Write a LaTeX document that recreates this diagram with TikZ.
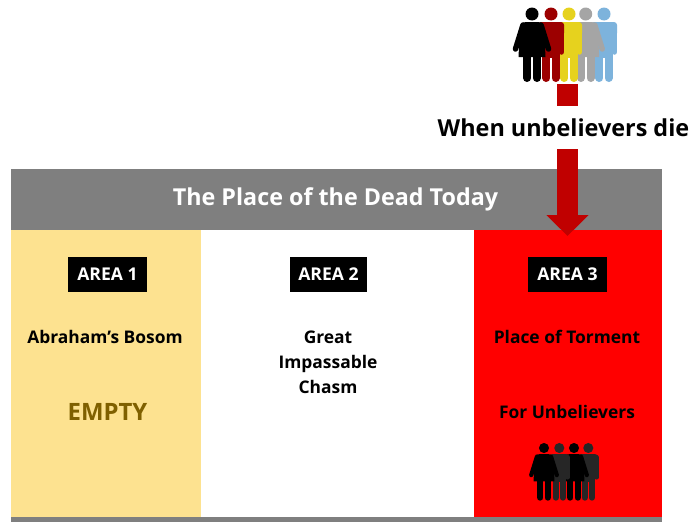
\documentclass[tikz,border=0pt]{standalone}
\usepackage{fontspec}
\setmainfont{Open Sans}
\usetikzlibrary{arrows.meta}
\definecolor{hdr}{HTML}{7F7F7F}
\definecolor{dred}{HTML}{C00000}
\definecolor{sand}{HTML}{FDE290}
\definecolor{emptyc}{HTML}{7F6000}
\definecolor{hblue}{HTML}{7DB3DC}
\definecolor{hgray}{HTML}{A5A5A5}
\definecolor{hyellow}{HTML}{E6D21E}
\definecolor{hred}{HTML}{9C0000}
\definecolor{hdark}{HTML}{262626}
\tikzset{
  x=1pt,y=-1pt,
  areabox/.style={fill=black,text=white,font=\bfseries\fontsize{17.6}{20}\selectfont,minimum width=79pt,minimum height=35pt,inner sep=0pt},
  lbl/.style={font=\bfseries\fontsize{17.4}{25}\selectfont,align=center,inner sep=0pt,text=black},
  pics/man/.style 2 args={code={
    \begin{scope}[scale=#2]
    \fill[#1] (0,0) circle (6.5);
    \fill[#1,rounded corners=3] (-13,8) rectangle (13,22);
    \fill[#1] (-8.5,12) rectangle (8.5,44);
    \draw[#1,line width=5.5*#2,line cap=round] (-10.5,12) -- (-10.5,38);
    \draw[#1,line width=5.5*#2,line cap=round] (10.5,12) -- (10.5,38);
    \draw[#1,line width=8*#2,line cap=round] (-4.6,40) -- (-4.6,64);
    \draw[#1,line width=8*#2,line cap=round] (4.6,40) -- (4.6,64);
    \end{scope}
  }},
  pics/woman/.style 2 args={code={
    \begin{scope}[scale=#2]
    \fill[#1] (0,0) circle (6.5);
    \fill[#1] (-6,8) .. controls (-9,8) and (-11,9) .. (-12,13) -- (-13.5,43) -- (13.5,43) -- (12,13) .. controls (11,9) and (9,8) .. (6,8) -- cycle;
    \draw[#1,line width=5.5*#2,line cap=round] (-9,11) -- (-16.5,35);
    \draw[#1,line width=5.5*#2,line cap=round] (9,11) -- (16.5,35);
    \draw[#1,line width=8*#2,line cap=round] (-4.8,40) -- (-4.8,64);
    \draw[#1,line width=8*#2,line cap=round] (4.8,40) -- (4.8,64);
    \end{scope}
  }},
}
\begin{document}
\begin{tikzpicture}
\useasboundingbox (0,0) rectangle (691,522);
\fill[white] (0,0) rectangle (691,522);
% panels
\fill[hdr] (11,169) rectangle (662,229.5);
\fill[sand] (11,229.5) rectangle (201,517);
\fill[red] (474,229.5) rectangle (662,517);
\fill[hdr] (11,517) rectangle (662,522);
\node[font=\bfseries\fontsize{23.3}{26}\selectfont,text=white,inner sep=0pt] (title) at (335.5,199.5) {The Place of the Dead Today};
% labels
\node[areabox] (a1) at (107.5,274.5) {AREA 1};
\node[areabox,minimum width=77pt] (a2) at (328.5,274.5) {AREA 2};
\node[areabox] (a3) at (567.5,274.5) {AREA 3};
\node[lbl] (t1) at (105,337) {Abraham’s Bosom};
\node[lbl] (t2) at (328,362) {Great\\Impassable\\Chasm};
\node[lbl] (t3) at (567,337) {Place of Torment};
\node[lbl] (t4) at (567,412) {For Unbelievers};
\node[font=\bfseries\fontsize{23.9}{28}\selectfont,text=emptyc,inner sep=0pt] (t5) at (107.5,412) {EMPTY};
% top crowd
\pic at (604,14) {man={hblue}{1}};
\pic at (585.7,14) {woman={hgray}{1}};
\pic at (569,14) {man={hyellow}{1}};
\pic at (551,14) {man={hred}{1}};
\pic at (532,14) {woman={black}{1}};
% bottom crowd
\pic at (588.3,448) {man={hdark}{.775}};
\pic at (574,448) {woman={black}{.775}};
\pic at (559.3,448) {man={hdark}{.775}};
\pic at (544,448) {woman={black}{.775}};
% arrow
\node[fill=dred,minimum width=21pt,minimum height=22pt,inner sep=0pt] (sq) at (567.5,95) {};
\node[font=\bfseries\fontsize{23.4}{26}\selectfont,inner sep=0pt] (when) at (563.5,128) {When unbelievers die};
\coordinate (as) at (567.5,149);
\coordinate (ae) at (567.5,236);
\draw[dred,line width=21pt,-{Triangle[width=41pt,length=21pt]}] (as) -- (ae);
\end{tikzpicture}
\end{document}
